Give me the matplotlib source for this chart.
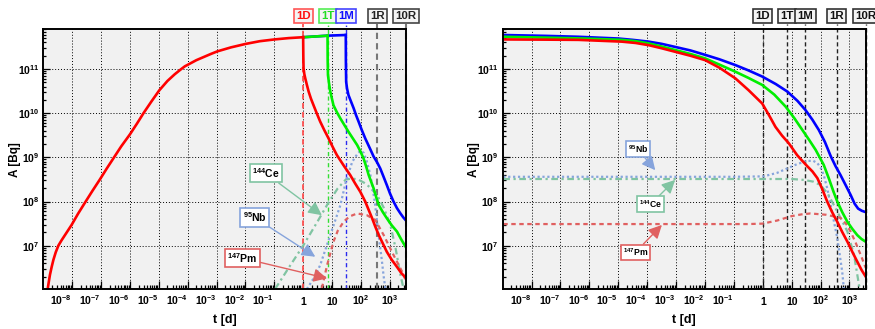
import numpy as np
import matplotlib
matplotlib.use('Agg')
import matplotlib.pyplot as plt
from matplotlib.ticker import FixedLocator, LogLocator, NullFormatter, FixedFormatter
from matplotlib.transforms import ScaledTranslation, blended_transform_factory

plt.rcParams['font.family'] = ['Liberation Sans', 'DejaVu Sans']
plt.rcParams['font.weight'] = 'bold'
plt.rcParams['mathtext.fontset'] = 'custom'
plt.rcParams['mathtext.rm'] = 'Liberation Sans:bold'
plt.rcParams['mathtext.bf'] = 'Liberation Sans:bold'
plt.rcParams['mathtext.it'] = 'Liberation Sans:bold'
plt.rcParams['mathtext.default'] = 'rm'

# ---------------- data (log10 of t [d] and A [Bq]) ----------------
# Left panel: irradiation build-up (common part), red drawn on top
build_logt = [-8.85, -8.81, -8.77, -8.71, -8.65, -8.57, -8.48, -8.37, -8.25, -8.02, -7.8,
              -7.6, -7.3, -7.04, -6.8, -6.57, -6.3, -6.0, -5.75, -5.53, -5.25, -4.98, -4.7,
              -4.45, -4.26, -4.1, -3.9, -3.7, -3.45, -3.2, -2.97, -2.5, -1.98, -1.5, -0.99,
              -0.5, 0.0]
build_logA = [6.013, 6.18, 6.34, 6.52, 6.68, 6.85, 7.0, 7.12, 7.24, 7.47, 7.72,
              7.93, 8.24, 8.5, 8.75, 8.98, 9.25, 9.52, 9.77, 10.0, 10.27, 10.52, 10.73,
              10.88, 10.98, 11.06, 11.13, 11.2, 11.27, 11.34, 11.40, 11.49, 11.57, 11.63, 11.67,
              11.70, 11.72]
# continued irradiation plateau for 1T and 1M
green_hold_logt = [0.0, 0.845]
green_hold_logA = [11.72, 11.754]
blue_hold_logt = [0.0, 0.845, 1.477]
blue_hold_logA = [11.72, 11.755, 11.77]
# decay after end of irradiation (left panel, absolute time)
red_dec_logt = [0.0, 0.006, 0.014, 0.04, 0.073, 0.13, 0.19, 0.27, 0.36, 0.47, 0.59, 0.73,
                0.88, 1.02, 1.17, 1.4, 1.63, 1.8, 1.98, 2.15, 2.27, 2.39, 2.5, 2.62, 2.76,
                2.9, 3.07, 3.25, 3.4, 3.5626]
red_dec_logA = [11.72, 11.3, 11.02, 10.89, 10.79, 10.64, 10.49, 10.33, 10.18, 10.0, 9.81, 9.62,
                9.43, 9.24, 9.05, 8.82, 8.6, 8.41, 8.22, 8.0, 7.81, 7.62, 7.43, 7.24, 7.05,
                6.86, 6.68, 6.52, 6.38, 6.27]
green_dec_logt = [0.845, 0.85, 0.86, 0.9, 0.94, 1.0, 1.05, 1.17, 1.29, 1.43, 1.57, 1.72, 1.87,
                  1.98, 2.09, 2.18, 2.27, 2.36, 2.44, 2.53, 2.62, 2.76, 2.9, 3.07, 3.25, 3.4,
                  3.5626]
green_dec_logA = [11.754, 11.2, 10.86, 10.66, 10.49, 10.32, 10.18, 10.02, 9.88, 9.73, 9.58, 9.43,
                  9.28, 9.14, 8.98, 8.8, 8.6, 8.44, 8.30, 8.1, 7.92, 7.76, 7.62, 7.46, 7.32,
                  7.14, 6.96]
blue_dec_logt = [1.477, 1.48, 1.49, 1.52, 1.57, 1.66, 1.75, 1.83, 1.92, 2.03, 2.15, 2.3, 2.44,
                 2.56, 2.67, 2.78, 2.9, 3.01, 3.13, 3.25, 3.37, 3.47, 3.5626]
blue_dec_logA = [11.77, 11.2, 10.71, 10.56, 10.41, 10.26, 10.11, 9.96, 9.81, 9.62, 9.43, 9.22,
                 9.02, 8.89, 8.75, 8.57, 8.37, 8.18, 8.0, 7.85, 7.73, 7.64, 7.57]
# single nuclides, left panel
ce_left_logt = [-0.97, -0.5, 0.0, 0.5, 0.88, 1.2, 1.48, 1.7, 1.9, 2.1, 2.3, 2.56, 2.8,
                3.02, 3.2, 3.37, 3.48]
ce_left_logA = [6.02, 6.5, 7.0, 7.55, 7.98, 8.3, 8.5, 8.52, 8.5, 8.43, 8.33, 8.15, 7.85,
                7.47, 6.95, 6.34, 6.02]
nb_left_logt = [0.13, 0.4, 0.59, 0.94, 1.29, 1.48, 1.7, 1.9, 2.0, 2.1, 2.2, 2.33, 2.48,
                2.62, 2.72, 2.79, 2.85]
nb_left_logA = [6.02, 6.3, 6.56, 7.24, 7.92, 8.45, 8.9, 9.1, 9.15, 9.1, 8.92, 8.6, 8.0,
                7.2, 6.7, 6.3, 6.02]
pm_left_logt = [0.65, 0.83, 1.05, 1.2, 1.4, 1.6, 1.87, 2.21, 2.5, 2.79, 3.13, 3.43, 3.5626]
pm_left_logA = [6.04, 6.56, 7.09, 7.34, 7.54, 7.66, 7.73, 7.69, 7.58, 7.24, 6.79, 6.41, 6.2]

# Right panel: decay after end of irradiation (time since shutdown)
blue_right_logt = [-8.98, -7.5, -6.38, -4.99, -4.5, -3.95, -3.5, -3.03, -2.5, -1.99, -1.5,
                   -0.95, -0.5, -0.02, 0.45, 0.85, 1.2, 1.48, 1.72, 1.94, 2.15, 2.35, 2.52,
                   2.69, 2.87, 3.04, 3.18, 3.3, 3.43, 3.5626]
blue_right_logA = [11.77, 11.75, 11.73, 11.69, 11.66, 11.62, 11.57, 11.50, 11.42, 11.32, 11.22,
                   11.09, 10.97, 10.83, 10.66, 10.49, 10.28, 10.07, 9.85, 9.62, 9.35, 9.03, 8.8,
                   8.6, 8.37, 8.15, 7.95, 7.84, 7.79, 7.76]
green_right_logt = [-8.98, -7.5, -6.15, -4.88, -4.4, -3.95, -3.5, -3.03, -2.5, -1.99, -1.5,
                    -0.95, -0.5, -0.02, 0.4, 0.79, 1.1, 1.37, 1.6, 1.83, 2.11, 2.3, 2.45, 2.58,
                    2.75, 2.93, 3.1, 3.27, 3.42, 3.5626]
green_right_logA = [11.73, 11.71, 11.69, 11.66, 11.63, 11.58, 11.51, 11.43, 11.34, 11.24, 11.1,
                    10.94, 10.8, 10.64, 10.42, 10.15, 9.88, 9.62, 9.4, 9.17, 8.83, 8.5, 8.22, 8.0,
                    7.76, 7.54, 7.38, 7.24, 7.15, 7.09]
red_right_logt = [-8.98, -7.5, -6.38, -4.88, -4.4, -3.95, -3.5, -3.03, -2.5, -1.99, -1.5,
                  -0.95, -0.49, -0.02, 0.22, 0.44, 0.67, 0.9, 1.19, 1.37, 1.54, 1.72, 1.89,
                  2.06, 2.23, 2.4, 2.58, 2.75, 2.93, 3.1, 3.27, 3.42, 3.5626]
red_right_logA = [11.67, 11.665, 11.66, 11.62, 11.59, 11.54, 11.47, 11.39, 11.3, 11.2, 11.03,
                  10.79, 10.52, 10.22, 9.95, 9.69, 9.49, 9.32, 9.05, 8.92, 8.8, 8.68, 8.53,
                  8.28, 8.0, 7.76, 7.54, 7.31, 7.09, 6.86, 6.64, 6.45, 6.3]
nb_right_logt = [-8.98, -1.0, 0.03, 0.5, 0.85, 1.2, 1.54, 1.75, 1.89, 2.0, 2.11, 2.23, 2.35,
                 2.58, 2.75, 2.81]
nb_right_logA = [8.56, 8.56, 8.57, 8.65, 8.75, 8.85, 8.92, 8.92, 8.87, 8.77, 8.6, 8.3, 7.92,
                 7.17, 6.41, 6.0]
ce_right_logt = [-8.98, 1.0, 1.42, 1.75, 2.0, 2.25, 2.46, 2.7, 2.93, 3.16, 3.33, 3.38]
ce_right_logA = [8.51, 8.51, 8.49, 8.45, 8.37, 8.18, 7.92, 7.62, 7.32, 6.79, 6.11, 6.0]
pm_right_logt = [-8.98, -0.5, 0.0, 0.5, 1.0, 1.35, 1.65, 2.2, 2.69, 2.88, 3.04, 3.22, 3.39,
                 3.5626]
pm_right_logA = [7.49, 7.49, 7.5, 7.57, 7.67, 7.71, 7.73, 7.7, 7.63, 7.5, 7.32, 7.06, 6.79, 6.5]

# time markers
marker_t = [1.0, 7.0, 30.0, 365.0, 3652.5]
marker_labels = ['1D', '1T', '1M', '1R', '10R']

xtick_vals = [1e-8, 1e-7, 1e-6, 1e-5, 1e-4, 1e-3, 1e-2, 1e-1, 1, 10, 100, 1000]
xtick_labels = [r'$10^{-8}$', r'$10^{-7}$', r'$10^{-6}$', r'$10^{-5}$', r'$10^{-4}$',
                r'$10^{-3}$', r'$10^{-2}$', r'$10^{-1}$', '1', '10', r'$10^{2}$', r'$10^{3}$']
ytick_vals = [1e7, 1e8, 1e9, 1e10, 1e11]
ytick_labels = [r'$10^{7}$', r'$10^{8}$', r'$10^{9}$', r'$10^{10}$', r'$10^{11}$']

# ---------------- styling ----------------
C_RED, C_GREEN, C_BLUE = '#ff0000', '#00ee00', '#0000ff'
C_CE, C_NB, C_PM = '#80c4a2', '#86a4dc', '#e06060'
LS_CE = (0, (3, 1.6, 1, 1.6))
LS_NB = (0, (1, 1.2))
LS_PM = (0, (2, 1.6))

fig = plt.figure(figsize=(8.75, 3.29), dpi=100)
ax1 = fig.add_axes([43.3 / 875, 1 - 289.3 / 329, 362.7 / 875, 260.3 / 329])
ax2 = fig.add_axes([502.7 / 875, 1 - 289.3 / 329, 363.0 / 875, 260.3 / 329])


def P(lt, la):
    return 10 ** np.asarray(lt), 10 ** np.asarray(la)


def setup(ax):
    ax.set_facecolor('#f1f1f1')
    ax.set_xscale('log')
    ax.set_yscale('log')
    ax.set_xlim(1e-9, 3652.5)
    ax.set_ylim(10 ** 6.013, 10 ** 11.906)
    ax.xaxis.set_major_locator(FixedLocator(xtick_vals))
    ax.xaxis.set_major_formatter(NullFormatter())
    ax.xaxis.set_minor_locator(LogLocator(base=10, subs=np.arange(2, 10), numticks=200))
    ax.xaxis.set_minor_formatter(NullFormatter())
    ax.yaxis.set_major_locator(FixedLocator(ytick_vals))
    ax.yaxis.set_major_formatter(FixedFormatter(ytick_labels))
    ax.yaxis.set_minor_locator(LogLocator(base=10, subs=np.arange(2, 10), numticks=200))
    ax.yaxis.set_minor_formatter(NullFormatter())
    ax.tick_params(axis='both', which='both', direction='in', top=False, right=False, width=0.9)
    ax.tick_params(axis='x', which='major', length=6)
    ax.tick_params(axis='x', which='minor', length=3)
    ax.tick_params(axis='y', which='major', length=5, labelsize=7.5, pad=3)
    ax.tick_params(axis='y', which='minor', length=2.5)
    for s in ax.spines.values():
        s.set_linewidth(1.4)
        s.set_zorder(10)
    ax.grid(True, which='major', color='black', linestyle=(0, (1, 2)), linewidth=0.7)
    ax.set_axisbelow(True)
    trans = blended_transform_factory(ax.transData, ax.transAxes)
    for v, lab in zip(xtick_vals, xtick_labels):
        dx = -11 if v < 1 else 0
        ax.text(v, 0, lab, transform=trans + ScaledTranslation(dx / 100, -16 / 100, fig.dpi_scale_trans),
                ha='center', va='baseline', fontsize=7.5, fontweight='bold')
    ax.text(0.5, -0.118, 't [d]', transform=ax.transAxes, ha='center', va='center',
            fontsize=9, fontweight='bold')
    ax.text(-0.078, 0.5, 'A [Bq]', transform=ax.transAxes, ha='center', va='center',
            rotation=90, fontsize=8.5, fontweight='bold')


setup(ax1)
setup(ax2)

# ---------------- left panel ----------------
left_mk_col = ['#ff5050', '#33dd33', '#2a2aee', '#777777', '#777777']
left_mk_txt = ['#ff1010', '#22dd22', '#1010ff', '#222222', '#222222']
left_mk_edge = ['#ff5555', '#55ee55', '#4444ff', '#444444', '#444444']
left_mk_ls = [(0, (3, 2)), (0, (3, 2, 1, 2)), (0, (3, 2, 1, 2)), (0, (3, 2)), (0, (3, 2))]
left_mk_lw = [1.3, 1.0, 1.0, 1.5, 1.5]
for t, lab, c, tc, ec, ls, lw in zip(marker_t, marker_labels, left_mk_col, left_mk_txt,
                                     left_mk_edge, left_mk_ls, left_mk_lw):
    ax1.axvline(t, ymin=0, ymax=1.02, color=c, linestyle=ls, linewidth=lw, clip_on=False, zorder=3)
    ax1.text(t, 1.05, lab, transform=blended_transform_factory(ax1.transData, ax1.transAxes),
             ha='center', va='center', fontsize=8.2, fontweight='bold', color=tc,
             bbox=dict(boxstyle='square,pad=0.2', fc='#f4f4f4', ec=ec, lw=1.2), zorder=12)

ax1.plot(*P(ce_left_logt, ce_left_logA), color=C_CE, ls=LS_CE, lw=1.6, zorder=4)
ax1.plot(*P(nb_left_logt, nb_left_logA), color=C_NB, ls=LS_NB, lw=1.6, zorder=4)
ax1.plot(*P(pm_left_logt, pm_left_logA), color=C_PM, ls=LS_PM, lw=1.6, zorder=4)

ax1.plot(*P(blue_hold_logt, blue_hold_logA), color=C_BLUE, lw=1.9, zorder=5)
ax1.plot(*P(blue_dec_logt, blue_dec_logA), color=C_BLUE, lw=1.9, zorder=5)
ax1.plot(*P(green_hold_logt, green_hold_logA), color=C_GREEN, lw=1.9, zorder=6)
ax1.plot(*P(green_dec_logt, green_dec_logA), color=C_GREEN, lw=1.9, zorder=6)
ax1.plot(*P(build_logt, build_logA), color=C_RED, lw=1.9, zorder=7)
ax1.plot(*P(red_dec_logt, red_dec_logA), color=C_RED, lw=1.9, zorder=7)


def label(ax, txt, xy, xytext, col, fs):
    ax.annotate(txt, xy=xy, xytext=xytext, xycoords='data', textcoords='data',
                ha='center', va='center', fontsize=fs, fontweight='bold', zorder=9,
                bbox=dict(boxstyle='square,pad=0.22', fc='white', ec=col, lw=1.2),
                arrowprops=dict(arrowstyle='-|>,head_length=0.9,head_width=0.45', color=col,
                                lw=1.0, mutation_scale=9, shrinkA=0, shrinkB=0))


label(ax1, r'$^{144}$Ce', (10 ** 0.65, 10 ** 7.69), (10 ** -1.30, 10 ** 8.64), C_CE, 7.5)
label(ax1, r'$^{95}$Nb', (10 ** 0.42, 10 ** 6.75), (10 ** -1.68, 10 ** 7.64), C_NB, 7.5)
label(ax1, r'$^{147}$Pm', (10 ** 0.83, 10 ** 6.26), (10 ** -2.11, 10 ** 6.72), C_PM, 7.5)

# ---------------- right panel ----------------
for t, lab in zip(marker_t, marker_labels):
    ax2.axvline(t, ymin=0, ymax=1.02, color='#222222', linestyle=(0, (3, 2)), linewidth=1.0,
                clip_on=False, zorder=3)
    ax2.text(t, 1.05, lab, transform=blended_transform_factory(ax2.transData, ax2.transAxes),
             ha='center', va='center', fontsize=8.2, fontweight='bold', color='#111111',
             bbox=dict(boxstyle='square,pad=0.2', fc='#f4f4f4', ec='#333333', lw=1.2), zorder=12)

ax2.plot(*P(nb_right_logt, nb_right_logA), color=C_NB, ls=LS_NB, lw=1.6, zorder=4)
ax2.plot(*P(ce_right_logt, ce_right_logA), color=C_CE, ls=LS_CE, lw=1.6, zorder=4)
ax2.plot(*P(pm_right_logt, pm_right_logA), color=C_PM, ls=LS_PM, lw=1.6, zorder=4)
ax2.plot(*P(blue_right_logt, blue_right_logA), color=C_BLUE, lw=1.9, zorder=5)
ax2.plot(*P(green_right_logt, green_right_logA), color=C_GREEN, lw=1.9, zorder=6)
ax2.plot(*P(red_right_logt, red_right_logA), color=C_RED, lw=1.9, zorder=7)

label(ax2, r'$^{95}$Nb', (10 ** -3.72, 10 ** 8.71), (10 ** -4.33, 10 ** 9.19), C_NB, 6.2)
label(ax2, r'$^{144}$Ce', (10 ** -3.03, 10 ** 8.49), (10 ** -3.88, 10 ** 7.94), C_CE, 6.2)
label(ax2, r'$^{147}$Pm', (10 ** -3.49, 10 ** 7.47), (10 ** -4.41, 10 ** 6.85), C_PM, 6.2)

fig.savefig('out.png', dpi=100)
